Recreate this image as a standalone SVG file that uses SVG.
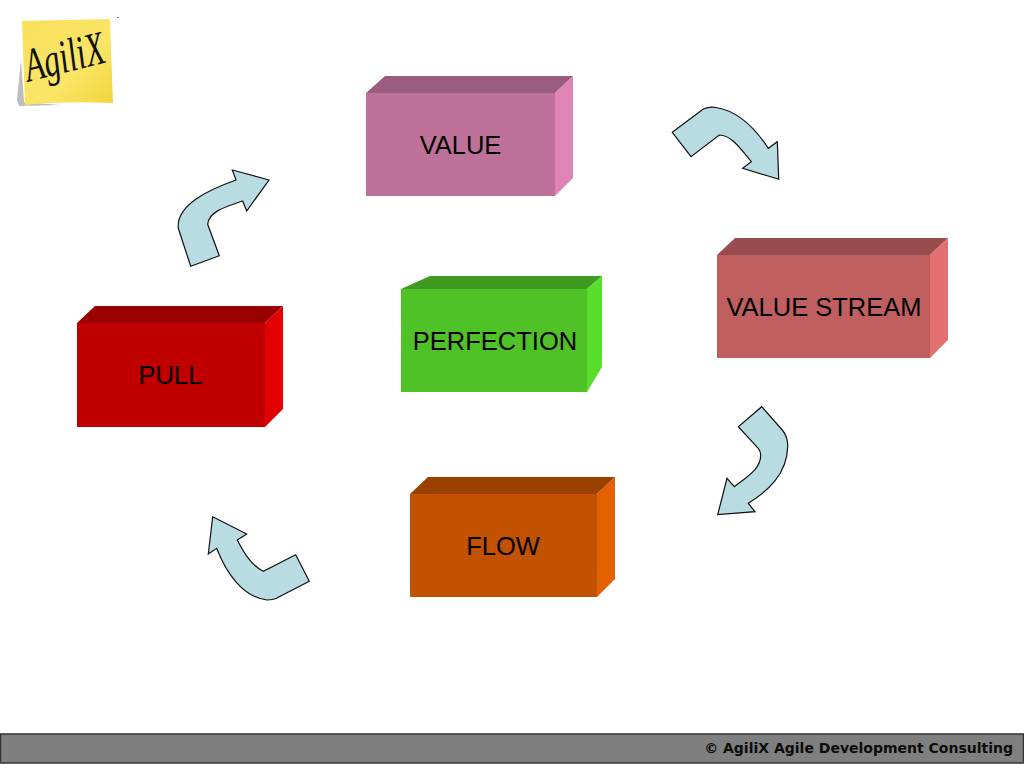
<svg xmlns="http://www.w3.org/2000/svg" width="1024" height="768" viewBox="0 0 1024 768">
<style>
.lbl{font-family:"Liberation Sans",Arial,sans-serif;font-size:25.500px;fill:#000;text-anchor:middle}
.arrow{fill:#b8dce2;stroke:#111;stroke-width:1.200;stroke-linejoin:miter}
</style>
<defs>
<linearGradient id="note" x1="0" y1="0" x2="1" y2="1"><stop offset="0" stop-color="#f8e05c"/><stop offset="0.6" stop-color="#fae566"/><stop offset="1" stop-color="#f2d43a"/></linearGradient>
</defs>
<rect width="1024" height="768" fill="#fff"/>
<g id="logo">
<polygon points="21,60 24,102 60,105 19,106 17,100" fill="#bdbdbd"/>
<path d="M22,21 L110,19 L113,103 Q60,101 25,105 Z" fill="url(#note)"/>
<rect x="117" y="17" width="2" height="1" fill="#888"/>
<text transform="translate(68,72) rotate(-14) scale(0.84,1.25)" font-family="'Liberation Serif',serif" font-style="italic" font-size="38" fill="#111" text-anchor="middle">AgiliX</text>
</g>
<g id="connectors">
<path class="arrow" d="M672.300,132.300 L703.300,109 Q709,106.500 716,107.500 C738,111 755,128 768.300,148.300 L777.300,141.700 L778.700,179.300 L742.700,168.300 L751.300,161.700 C740,148 731,135 719.300,135 L691,156.700 Z"/>
<path class="arrow" d="M761.700,406.700 L782.300,430 Q788,437 787.700,446.700 C787,474 768,491 748.300,503.300 L755,511.700 L717.700,514.700 L727,478.300 L734.300,486.700 C748,476 760.700,469 760.700,455 Q760.500,451 758.300,448.300 L738.300,426.700 Z"/>
<path class="arrow" d="M212.700,516.700 L246.700,534 L237.300,540 C244,553 251,565 263.300,571.300 L295.700,554.700 L309.300,581.300 L278.300,597.300 Q274,600 267,600 C243,597 226,573 216.700,548.300 L208.300,554 Z"/>
<path class="arrow" d="M232.300,170 L269,180 L246.700,211 L242.700,201 C228,206 208.500,211 207.700,224.300 L219.300,255.700 L190.700,266.300 L178.300,228.300 C176,205 208,190 236,180 Z"/>
</g>
<g id="value">
<polygon points="366,93 385,76 573,76 555,93" fill="#9a5d7d"/><polygon points="555,93 573,76 573,178 555,196" fill="#de84b6"/><rect x="366" y="93" width="189" height="103" fill="#be7299"/>
<text class="lbl" x="460.500" y="154">VALUE</text>
</g>
<g id="value-stream">
<polygon points="717,255 735,238 948,238 930,255" fill="#994c4d"/><polygon points="930,255 948,238 948,340 930,358" fill="#e27071"/><rect x="717" y="255" width="213" height="103" fill="#bf5f60"/>
<text class="lbl" x="824" y="316">VALUE STREAM</text>
</g>
<g id="perfection">
<polygon points="401,289 430,276 602,276 587,289" fill="#3f9b20"/><polygon points="587,289 602,276 602,367 587,392" fill="#5ade2c"/><rect x="401" y="289" width="186" height="103" fill="#4fc228"/>
<text class="lbl" x="495" y="350">PERFECTION</text>
</g>
<g id="flow">
<polygon points="410,494 428,477 615,477 597,494" fill="#9b4100"/><polygon points="597,494 615,477 615,579 597,597" fill="#e56000"/><rect x="410" y="494" width="187" height="103" fill="#c25100"/>
<text class="lbl" x="503" y="555">FLOW</text>
</g>
<g id="pull">
<polygon points="77,323 95,306 283,306 265,323" fill="#9a0000"/><polygon points="265,323 283,306 283,409 265,427" fill="#e20000"/><rect x="77" y="323" width="188" height="104" fill="#c00000"/>
<text class="lbl" x="170.500" y="384">PULL</text>
</g>
<g id="footer">
<rect x="0.500" y="734" width="1023" height="29" fill="#7f7f7f" stroke="#333" stroke-width="1.500"/>
<text x="1013" y="753" font-family="'DejaVu Sans',sans-serif" font-weight="bold" font-size="14" fill="#0c0c0c" text-anchor="end">© AgiliX Agile Development Consulting</text>
</g>
</svg>
